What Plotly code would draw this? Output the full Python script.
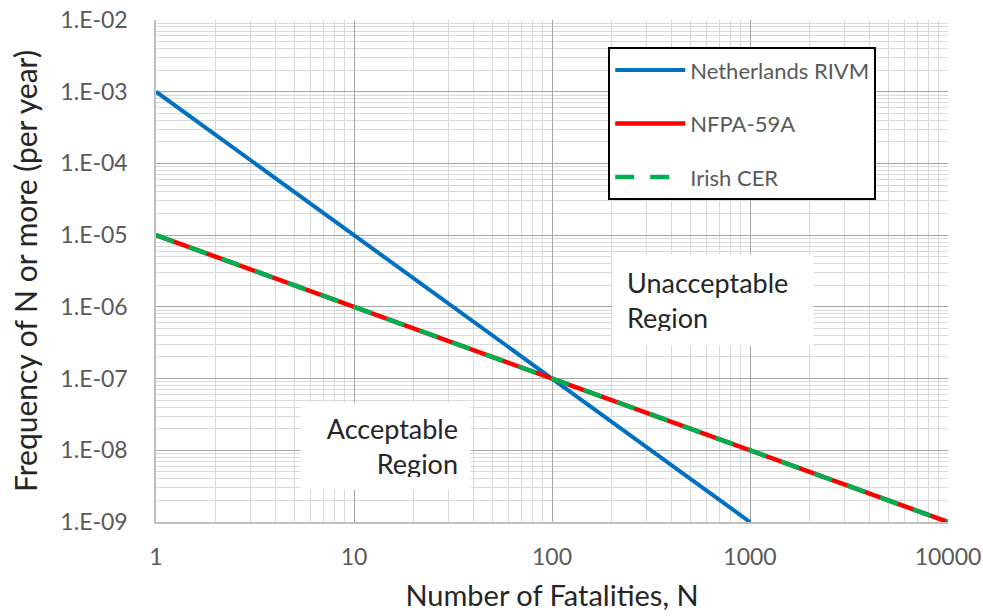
import plotly.graph_objects as go

# ---- data ----
rivm_n = [1, 10, 100, 1000]
rivm_f = [1e-3, 1e-5, 1e-7, 1e-9]
nfpa_n = [1, 10, 100, 1000, 10000]
nfpa_f = [1e-5, 1e-6, 1e-7, 1e-8, 1e-9]
irish_n = [1, 10, 100, 1000, 10000]
irish_f = [1e-5, 1e-6, 1e-7, 1e-8, 1e-9]

x_tickvals = [1, 10, 100, 1000, 10000]
x_ticktext = ["1", "10", "100", "1000", "10000"]
y_tickvals = [1e-9, 1e-8, 1e-7, 1e-6, 1e-5, 1e-4, 1e-3, 1e-2]
y_ticktext = ["1.E-09", "1.E-08", "1.E-07", "1.E-06", "1.E-05", "1.E-04", "1.E-03", "1.E-02"]

FONT = "Lato"
fig = go.Figure()
fig.add_trace(go.Scatter(x=rivm_n, y=rivm_f, mode="lines", name="Netherlands RIVM",
                         line=dict(color="#0070C0", width=4), legendgroup="a"))
fig.add_trace(go.Scatter(x=nfpa_n, y=nfpa_f, mode="lines", name="NFPA-59A",
                         line=dict(color="#FF0000", width=4.5), legendgroup="b"))
fig.add_trace(go.Scatter(x=irish_n, y=irish_f, mode="lines", name="Irish CER",
                         line=dict(color="#00B050", width=4.5, dash="19px,16px"), legendgroup="c"))

minor_grid = dict(showgrid=True, gridcolor="#D9D9D9", gridwidth=1, dtick="D1", ticks="")

fig.update_xaxes(type="log", range=[0, 4], tickvals=x_tickvals, ticktext=x_ticktext,
                 showgrid=True, gridcolor="#A6A6A6", gridwidth=1.2,
                 minor=minor_grid, showline=True, linecolor="#BFBFBF", linewidth=1.5,
                 ticks="", ticklabelstandoff=14, automargin=False,
                 tickfont=dict(family=FONT, size=23, color="#595959"),
                 title=dict(text="Number of Fatalities, N", font=dict(family=FONT, size=29, color="#262626"),
                            standoff=16),
                 zeroline=False)
fig.update_yaxes(type="log", range=[-9, -2], tickvals=y_tickvals, ticktext=y_ticktext,
                 showgrid=True, gridcolor="#A6A6A6", gridwidth=1.2,
                 minor=minor_grid, showline=True, linecolor="#BFBFBF", linewidth=1.5,
                 ticks="", ticklabelstandoff=22, automargin=False,
                 tickfont=dict(family=FONT, size=23, color="#595959"),
                 title=dict(text="Frequency of N or more (per year)", font=dict(family=FONT, size=30, color="#262626"),
                            standoff=14),
                 zeroline=False)

fig.add_annotation(xref="paper", yref="paper", x=0.29, y=0.151, xanchor="center", yanchor="middle",
                   text="Acceptable<br>Region",
                   showarrow=False, align="right", bgcolor="white", width=145, height=62, borderpad=12,
                   font=dict(family=FONT, size=27, color="#262626"))
fig.add_annotation(xref="paper", yref="paper", x=0.703, y=0.442, xanchor="center", yanchor="middle",
                   text="Unacceptable<br>Region",
                   showarrow=False, align="left", bgcolor="white", width=172, height=62, borderpad=14,
                   font=dict(family=FONT, size=27, color="#262626"))

fig.update_layout(
    width=983, height=616,
    margin=dict(l=156, r=35, t=20, b=94),
    plot_bgcolor="white", paper_bgcolor="white",
    legend=dict(x=0.571, y=0.946, xanchor="left", yanchor="top",
                bgcolor="white", bordercolor="black", borderwidth=2,
                itemwidth=70, tracegroupgap=22, traceorder="grouped",
                font=dict(family=FONT, size=22, color="#595959")),
)

fig.write_html("out.html")
